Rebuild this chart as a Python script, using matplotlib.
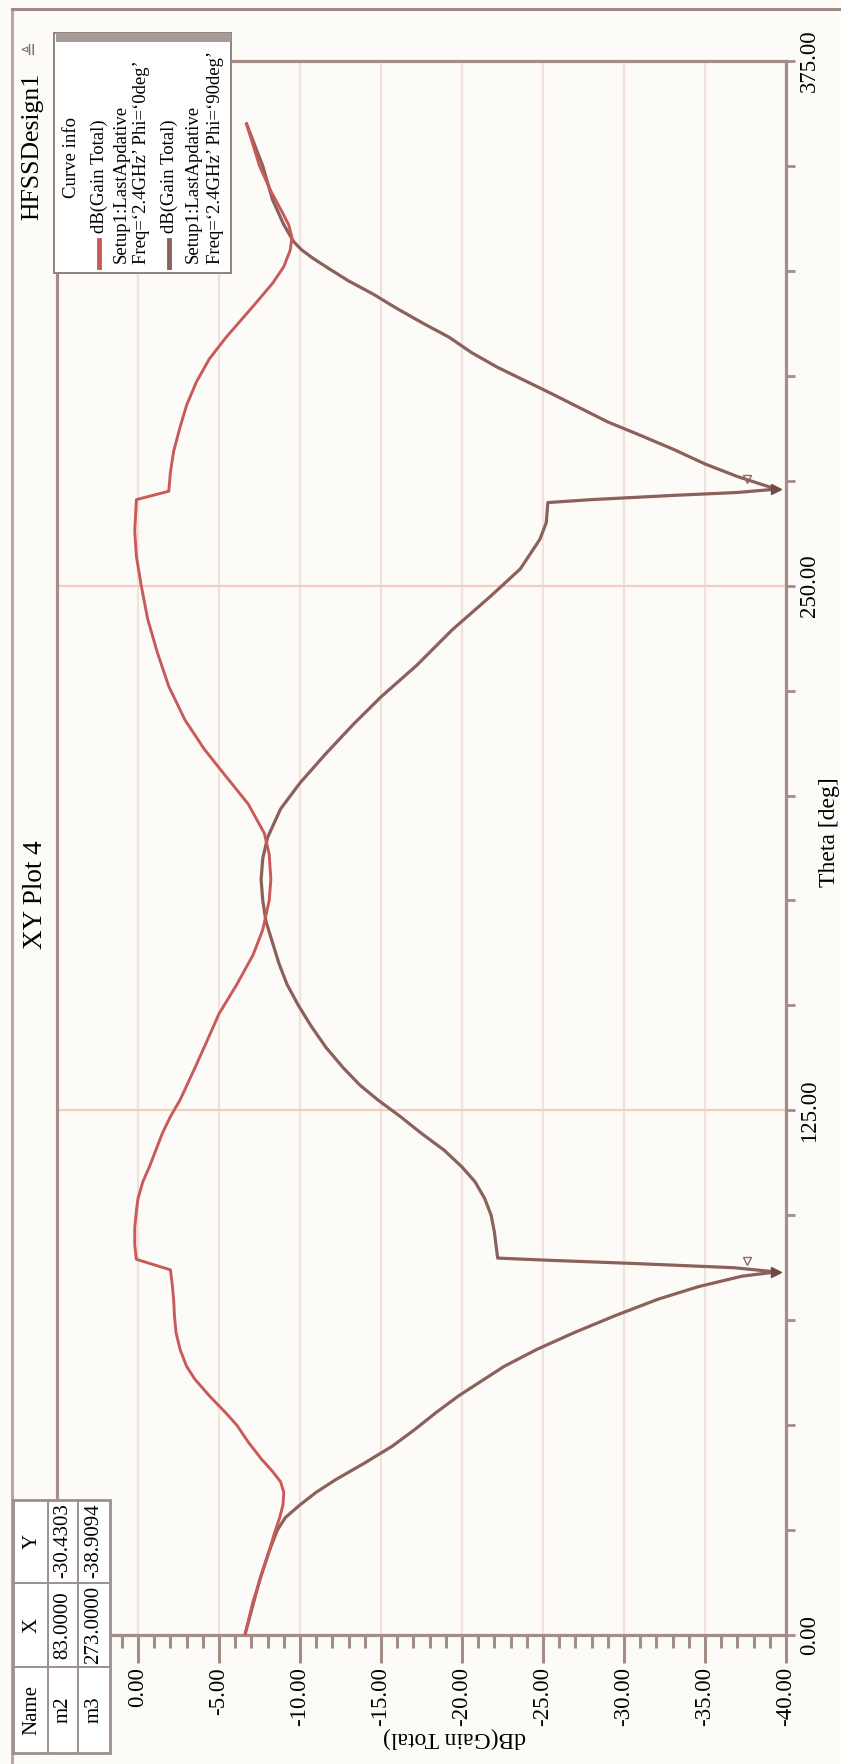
import matplotlib
matplotlib.use('Agg')
import matplotlib.pyplot as plt
from matplotlib.patches import Rectangle
from matplotlib.lines import Line2D
import numpy as np

W, H = 841, 1764
plt.rcParams['font.family'] = ['Liberation Serif', 'DejaVu Serif']

# ---------------- data ----------------
theta_red = [0, 4, 8, 12, 16, 20, 24, 28, 31, 34, 36.5, 39, 42, 46, 50, 53, 57,
             61, 64, 68, 72, 76, 80, 84, 87, 89.5, 93, 97, 101, 104, 108, 111.5,
             115.5, 119.5, 123.5, 127.5, 135, 141, 148, 155, 162, 168, 175, 180,
             186, 191, 198, 204.7, 211, 218, 226, 234, 242, 250, 257, 263, 270.5,
             272.5, 277, 282, 287.8, 293, 298.5, 304, 309, 313, 317, 322, 326,
             330, 333, 336, 339, 344, 350, 355, 360]
gain_red = [-6.6, -6.85, -7.1, -7.45, -7.75, -8.1, -8.4, -8.75, -8.95, -9.0, -8.8,
            -8.3, -7.6, -6.8, -6.1, -5.4, -4.4, -3.5, -3.0, -2.6, -2.35, -2.25,
            -2.2, -2.1, -2.0, 0.1, 0.2, 0.2, 0.1, 0.0, -0.3, -0.7, -1.1, -1.5,
            -2.0, -2.6, -3.5, -4.2, -5.0, -6.1, -7.1, -7.7, -8.1, -8.2, -8.1,
            -7.8, -6.8, -5.4, -4.1, -2.9, -1.9, -1.2, -0.6, -0.2, 0.1, 0.2, 0.1,
            -1.9, -2.0, -2.2, -2.6, -3.0, -3.6, -4.4, -5.4, -6.3, -7.2, -8.3,
            -9.0, -9.4, -9.5, -9.3, -8.9, -8.2, -7.5, -7.1, -6.7]

theta_brown = [0, 13, 20, 25, 28, 31, 34, 37, 41, 45, 49, 53, 57, 60, 64, 68, 72,
               76, 80, 83, 85.5, 86.5, 87.5, 88.5, 89.3, 89.8, 96, 100, 104, 108,
               111.5, 115.5, 119.5, 123.5, 127.5, 131, 135, 140, 145, 150, 155,
               160, 165, 170, 175, 180, 185, 190, 196.8, 203, 210, 217, 223.5, 231,
               239.5, 247.6, 254, 261, 265, 269.8, 270.5, 271.5, 272.2, 273, 276,
               279, 282.4, 286, 289, 292.5, 295.8, 299, 302, 305.5, 309.2, 312.5,
               316, 319.5, 322.6, 325.5, 328, 330, 332, 336, 342, 350, 355, 360]
gain_brown = [-6.6, -7.5, -8.1, -8.6, -9.1, -10.0, -11.0, -12.2, -14.0, -15.7,
              -17.1, -18.4, -19.8, -21.0, -22.6, -24.6, -26.9, -29.4, -32.1, -34.6,
              -37.3, -39.4, -36.8, -30.7, -25.2, -22.2, -22.0, -21.8, -21.4, -20.8,
              -20.0, -18.9, -17.5, -16.2, -14.8, -13.7, -12.7, -11.6, -10.7, -9.9,
              -9.2, -8.7, -8.3, -7.9, -7.7, -7.6, -7.7, -8.0, -8.8, -10.0, -11.6,
              -13.3, -15.0, -17.2, -19.4, -21.8, -23.6, -24.8, -25.2, -25.3, -28.0,
              -33.0, -37.0, -39.4, -37.0, -35.0, -33.1, -30.9, -29.0, -27.2, -25.5,
              -23.8, -22.2, -20.6, -19.2, -17.6, -16.0, -14.5, -13.0, -11.8, -10.8,
              -10.1, -9.6, -9.0, -8.3, -7.7, -7.2, -6.7]

db_ticks = [0, -5, -10, -15, -20, -25, -30, -35, -40]
db_tick_labels = ['0.00', '-5.00', '-10.00', '-15.00', '-20.00', '-25.00',
                  '-30.00', '-35.00', '-40.00']
theta_ticks = [0, 125, 250, 375]
theta_tick_labels = ['0.00', '125.00', '250.00', '375.00']

marker_names = ['m2', 'm3']
marker_x = ['83.0000', '273.0000']
marker_y = ['-30.4303', '-38.9094']

legend_lines = [
    ["dB(Gain Total)", "Setup1:LastApdative", "Freq=\u20182.4GHz\u2019 Phi=\u20180deg\u2019"],
    ["dB(Gain Total)", "Setup1:LastApdative", "Freq=\u20182.4GHz\u2019 Phi=\u201890deg\u2019"],
]

# ---------------- styling ----------------
BG = '#fdfbf8'
AXC = '#a48d87'
RED = '#c95a5a'
BROWN = '#8c605b'
GRID_V = '#f1e3dc'
GRID_H = '#f2cfc0'

fig = plt.figure(figsize=(W / 100, H / 100), dpi=100)
fig.patch.set_facecolor(BG)


def fx(px):
    return px / W


def fy(py):
    return 1 - py / H


L, R, T, B = 57, 786, 61, 1635
ax = fig.add_axes([fx(L), fy(B), (R - L) / W, (B - T) / H])
ax.set_facecolor(BG)
ax.set_xlim(5, -40)
ax.set_ylim(0, 375)

ax.plot(gain_brown, theta_brown, color=BROWN, lw=2.3, zorder=3)
ax.plot(gain_red, theta_red, color=RED, lw=2.1, zorder=4)

# null markers at the deepest points of the brown curve
gb = np.array(gain_brown)
tb = np.array(theta_brown)
for mask in (tb < 180, tb >= 180):
    i = np.argmin(np.where(mask, gb, 1e9))
    ax.plot(gb[i], tb[i], marker='>', ms=7, color='#6f4a46', zorder=5, clip_on=False)
    ax.plot(gb[i] + 1.8, tb[i] + 2.5, marker='v', ms=6, mfc='none', mec='#8a6a66',
            mew=1.0, zorder=5)

# axes styling
for s in ax.spines.values():
    s.set_color(AXC)
    s.set_linewidth(2.3)

ax.set_xticks(db_ticks)
ax.set_xticklabels(db_tick_labels)
ax.set_xticks([v for v in range(-40, 6) if v % 5 != 0], minor=True)
ax.tick_params(axis='x', which='major', length=20, width=2.2, color=AXC,
               direction='out', labelsize=16.5, pad=3, labelrotation=90)
ax.tick_params(axis='x', which='minor', length=9, width=2.2, color=AXC,
               direction='out')

ax.yaxis.tick_right()
ax.set_yticks(theta_ticks)
ax.set_yticklabels(theta_tick_labels)
ax.set_yticks([v for v in range(0, 376, 25) if v % 125 != 0], minor=True)
ax.tick_params(axis='y', which='both', length=6.5, width=2.0, color=AXC,
               direction='out', labelsize=16.5, pad=3)
for lbl in ax.get_yticklabels():
    lbl.set_rotation(90)
    lbl.set_va('center')
    lbl.set_ha('left')

ax.grid(axis='x', which='major', color=GRID_V, lw=1.6, zorder=0)
ax.grid(axis='y', which='major', color=GRID_H, lw=1.6, zorder=0)
ax.set_axisbelow(True)

# axis titles
fig.text(fx(455), fy(1738), 'dB(Gain Total)', rotation=180, ha='center',
         va='center', fontsize=17)
fig.text(fx(829), fy(832), 'Theta [deg]', rotation=90, ha='center',
         va='center', fontsize=17)
fig.text(fx(35), fy(895), 'XY Plot 4', rotation=90, ha='center',
         va='center', fontsize=19.5)
fig.text(fx(32), fy(146), 'HFSSDesign1', rotation=90, ha='center',
         va='center', fontsize=18.5)
fig.text(fx(31), fy(47), '\u225c', rotation=90, ha='center', va='center',
         fontsize=13, color='#7d6d6a', family='DejaVu Sans')

# frame lines of the figure
fig.add_artist(Line2D([fx(12), fx(12)], [fy(9), 0], color='#b9a6a2', lw=2.2))
fig.add_artist(Line2D([fx(12), 1], [fy(9), fy(9)], color='#a08884', lw=2.2))

# ---------------- legend box ----------------
lx0, lx1, ly0, ly1 = 54, 231, 33, 273
fig.add_artist(Rectangle((fx(lx0), fy(ly1)), (lx1 - lx0) / W, (ly1 - ly0) / H,
                         transform=fig.transFigure, fc='white', ec='#8f827f',
                         lw=1.4, zorder=6))
fig.add_artist(Rectangle((fx(lx0 + 2), fy(ly0 + 9)), (lx1 - lx0 - 2) / W, 9 / H,
                         transform=fig.transFigure, fc='#a79b98', ec='none',
                         zorder=6))
fig.text(fx(72), fy(157), 'Curve info', rotation=90, ha='center', va='center',
         fontsize=13.5, zorder=7)
group_x = [(99, 121, 142), (169, 193, 215)]
colors = [RED, BROWN]
for g in range(2):
    xs = group_x[g]
    fig.add_artist(Line2D([fx(xs[0]), fx(xs[0])], [fy(267), fy(240)],
                          color=colors[g], lw=3.5, zorder=7))
    starts = (233, 263, 264)
    for k in range(3):
        fig.text(fx(xs[k]), fy(starts[k]), legend_lines[g][k], rotation=90,
                 ha='center', va='bottom', fontsize=13.5, zorder=7)

# ---------------- marker table ----------------
tx0, tx1, ty0, ty1 = 13, 110, 1500, 1753
fig.add_artist(Rectangle((fx(tx0), fy(ty1)), (tx1 - tx0) / W, (ty1 - ty0) / H,
                         transform=fig.transFigure, fc='white', ec='#9c8f8c',
                         lw=2.0, zorder=6))
for xv in (48, 78):
    fig.add_artist(Line2D([fx(xv), fx(xv)], [fy(ty0), fy(ty1)], color='#9c8f8c',
                          lw=1.4, zorder=7))
for yv in (1583, 1667):
    fig.add_artist(Line2D([fx(tx0), fx(tx1)], [fy(yv), fy(yv)], color='#9c8f8c',
                          lw=1.4, zorder=7))
col_y = [1710, 1625, 1541]
row_x = [32, 63, 94]
rows = [['Name', 'X', 'Y']] + [[marker_names[i], marker_x[i], marker_y[i]]
                               for i in range(2)]
for r in range(3):
    for c in range(3):
        fig.text(fx(row_x[r]), fy(col_y[c]), rows[r][c], rotation=90, ha='center',
                 va='center', fontsize=15, zorder=8)

fig.savefig('out.png', dpi=100, facecolor=BG)
